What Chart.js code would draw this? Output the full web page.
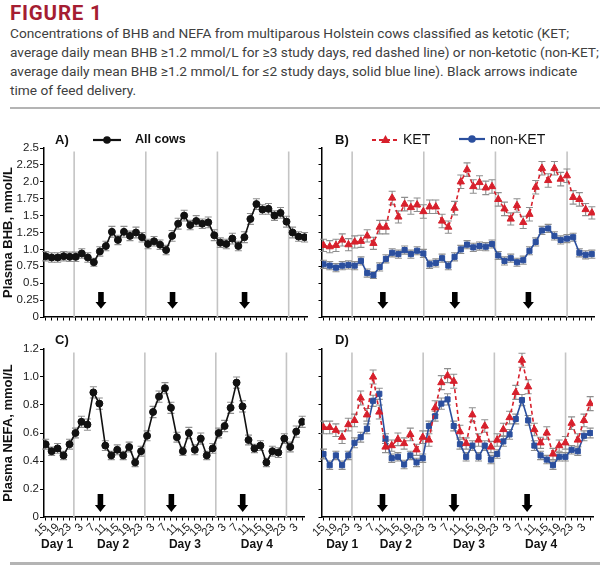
<!DOCTYPE html>
<html>
<head>
<meta charset="utf-8">
<script src="https://cdn.jsdelivr.net/npm/chart.js@4.4.1/dist/chart.umd.min.js"></script>
<style>
  body { margin: 0; width: 610px; height: 571px; background: #fff; position: relative; overflow: hidden;
         font-family: "Liberation Sans", Arial, sans-serif; }
  .fig-title { position: absolute; left: 10px; top: 1px; font: 700 20.5px Roboto, sans-serif; color: #a51d32; letter-spacing: 0.8px; }
  .caption { position: absolute; left: 10px; top: 24px; font: 13.7px Roboto, sans-serif; color: #404040; line-height: 19px; white-space: nowrap; }
  .rule { position: absolute; left: 10px; width: 590px; height: 2px; background: #b4b4b4; }
  .panel { position: absolute; }
  .tag { position: absolute; font: 700 13px "Liberation Sans", Arial, sans-serif; color: #111; }
  .leg { position: absolute; font: 14px "Liberation Sans", Arial, sans-serif; color: #111; }
  svg.key { position: absolute; }
</style>
</head>
<body>
<div class="fig-title">FIGURE 1</div>
<div class="caption">
  <div>Concentrations of BHB and NEFA from multiparous Holstein cows classified as ketotic (KET;</div>
  <div>average daily mean BHB ≥1.2 mmol/L for ≥3 study days, red dashed line) or non-ketotic (non-KET;</div>
  <div>average daily mean BHB ≥1.2 mmol/L for ≤2 study days, solid blue line). Black arrows indicate</div>
  <div>time of feed delivery.</div>
</div>
<div class="rule" style="top:107px"></div>

<canvas id="chartA" class="panel" width="312" height="216" style="left:0;top:110px"></canvas>
<canvas id="chartC" class="panel" width="312" height="230" style="left:0;top:330px"></canvas>
<canvas id="chartB" class="panel" width="300" height="216" style="left:300px;top:110px"></canvas>
<canvas id="chartD" class="panel" width="300" height="230" style="left:300px;top:330px"></canvas>

<div class="tag" style="left:55px;top:132px">A)</div>
<svg class="key" style="left:93px;top:134px" width="28" height="12"><line x1="0" y1="6" x2="28" y2="6" stroke="#111" stroke-width="2.2"/><circle cx="14" cy="6" r="3.8" fill="#111"/></svg>
<div class="leg" style="left:135px;top:132px;font-weight:700;font-size:12.5px">All cows</div>

<div class="tag" style="left:335px;top:132px">B)</div>
<svg class="key" style="left:372px;top:133px" width="27" height="12"><line x1="0" y1="7" x2="27" y2="7" stroke="#d7202c" stroke-width="2.2" stroke-dasharray="4,3"/><polygon points="13.5,2 18,10 9,10" fill="#d7202c"/></svg>
<div class="leg" style="left:403px;top:131px">KET</div>
<svg class="key" style="left:459px;top:133px" width="26" height="12"><line x1="0" y1="6" x2="26" y2="6" stroke="#2b4f9e" stroke-width="2.2"/><circle cx="13" cy="6" r="3.8" fill="#2b4f9e"/></svg>
<div class="leg" style="left:490px;top:131px">non-KET</div>

<div class="tag" style="left:55px;top:332px">C)</div>
<div class="tag" style="left:335px;top:332px">D)</div>

<div class="rule" style="top:562px;height:2.5px"></div>

<script>
// 2-h sampling times, label on every other tick
const hourLabels = ['15','','19','','23','','3','','7','','11','','15','','19','','23','','3','','7','','11','',
                    '15','','19','','23','','3','','7','','11','','15','','19','','23','','3',''];
const dayLabels = ['Day 1', 'Day 2', 'Day 3', 'Day 4'];
const bhbTickLabels = ['0','0.25','0.5','0.75','1.0','1.25','1.5','1.75','2.0','2.25','2.5'];
const nefaTickLabels = ['0','0.2','0.4','0.6','0.8','1.0','1.2'];

// BHB, mmol/L
const bhbAll = [0.90,0.88,0.88,0.90,0.89,0.89,0.94,0.88,0.81,0.97,1.05,1.26,1.14,1.26,1.20,1.25,1.18,1.08,1.12,1.07,0.99,1.20,
                1.38,1.50,1.36,1.42,1.38,1.40,1.21,1.10,1.08,1.16,1.05,1.18,1.45,1.67,1.59,1.60,1.50,1.54,1.41,1.25,1.19,1.18];
const bhbAllSem = [0.07,0.07,0.07,0.07,0.07,0.07,0.07,0.07,0.06,0.07,0.07,0.08,0.07,0.08,0.07,0.08,0.07,0.07,0.07,0.07,0.07,0.08,
                   0.08,0.08,0.07,0.08,0.07,0.08,0.08,0.07,0.07,0.08,0.07,0.08,0.08,0.08,0.07,0.08,0.07,0.08,0.08,0.08,0.07,0.07];
const bhbKet = [1.06,1.04,1.06,1.14,1.07,1.11,1.12,1.20,1.09,1.33,1.33,1.76,1.48,1.67,1.62,1.66,1.56,1.63,1.63,1.42,1.33,1.61,
                2.00,2.18,1.93,1.99,1.91,1.93,1.74,1.60,1.45,1.65,1.40,1.52,1.92,2.20,2.02,2.20,2.04,2.09,1.77,1.74,1.59,1.54];
const bhbKetSem = [0.09,0.09,0.09,0.09,0.09,0.09,0.09,0.09,0.09,0.10,0.10,0.10,0.09,0.10,0.10,0.10,0.10,0.10,0.10,0.10,0.09,0.10,
                   0.10,0.10,0.10,0.10,0.10,0.10,0.10,0.10,0.09,0.10,0.09,0.10,0.10,0.10,0.10,0.10,0.10,0.10,0.10,0.10,0.09,0.09];
const bhbNonKet = [0.78,0.76,0.73,0.76,0.77,0.76,0.83,0.65,0.62,0.74,0.86,0.95,0.93,0.99,0.93,0.98,0.94,0.78,0.80,0.87,0.76,0.89,
                   1.00,1.07,1.03,1.05,1.04,1.08,0.91,0.83,0.87,0.81,0.84,0.98,1.11,1.28,1.31,1.20,1.14,1.16,1.18,0.95,0.92,0.93];
const bhbNonKetSem = [0.06,0.06,0.06,0.06,0.06,0.06,0.06,0.06,0.05,0.06,0.06,0.06,0.06,0.06,0.06,0.06,0.06,0.06,0.06,0.06,0.06,0.06,
                      0.06,0.06,0.06,0.06,0.06,0.06,0.06,0.06,0.06,0.06,0.06,0.06,0.06,0.06,0.06,0.06,0.06,0.06,0.06,0.06,0.06,0.06];

// NEFA, mmol/L
const nefaAll = [0.52,0.47,0.49,0.44,0.52,0.60,0.68,0.66,0.89,0.81,0.51,0.44,0.48,0.44,0.50,0.39,0.47,0.58,0.75,0.86,0.92,0.78,
                 0.57,0.47,0.60,0.48,0.56,0.44,0.49,0.60,0.65,0.78,0.96,0.79,0.55,0.49,0.51,0.39,0.47,0.46,0.56,0.50,0.61,0.68];
const nefaAllSem = [0.035,0.03,0.035,0.03,0.035,0.035,0.04,0.04,0.04,0.04,0.035,0.03,0.035,0.03,0.035,0.03,0.035,0.035,0.04,0.04,0.04,0.04,
                    0.035,0.03,0.04,0.035,0.04,0.03,0.035,0.035,0.04,0.04,0.04,0.04,0.035,0.03,0.035,0.03,0.035,0.035,0.035,0.035,0.04,0.04];
const nefaKet = [0.64,0.64,0.62,0.57,0.66,0.69,0.85,0.73,1.00,0.75,0.50,0.51,0.555,0.525,0.59,0.48,0.57,0.55,0.78,0.96,1.01,0.97,
                 0.61,0.525,0.73,0.55,0.65,0.50,0.55,0.625,0.71,0.89,1.12,0.93,0.625,0.53,0.60,0.45,0.51,0.53,0.67,0.55,0.69,0.81];
const nefaKetSem = [0.045,0.045,0.045,0.045,0.045,0.045,0.05,0.045,0.05,0.05,0.04,0.04,0.045,0.04,0.045,0.04,0.045,0.045,0.05,0.05,0.05,0.05,
                    0.045,0.04,0.05,0.045,0.045,0.04,0.045,0.045,0.045,0.05,0.05,0.05,0.045,0.04,0.045,0.04,0.04,0.045,0.045,0.045,0.045,0.05];
const nefaNonKet = [0.45,0.37,0.44,0.37,0.44,0.53,0.57,0.63,0.83,0.88,0.56,0.42,0.43,0.375,0.44,0.39,0.42,0.65,0.72,0.81,0.84,0.65,
                    0.52,0.43,0.51,0.43,0.51,0.41,0.45,0.54,0.59,0.70,0.835,0.69,0.51,0.44,0.41,0.37,0.43,0.43,0.48,0.47,0.58,0.60];
const nefaNonKetSem = [0.035,0.03,0.03,0.03,0.03,0.035,0.035,0.035,0.04,0.04,0.035,0.03,0.03,0.03,0.03,0.03,0.03,0.035,0.035,0.04,0.04,0.035,
                       0.035,0.03,0.035,0.03,0.035,0.03,0.03,0.035,0.035,0.035,0.04,0.035,0.035,0.03,0.03,0.03,0.03,0.03,0.03,0.03,0.035,0.035];

Chart.defaults.font.family = "'Liberation Sans', Arial, sans-serif";
Chart.defaults.color = '#222';

const RED = '#d7202c', BLUE = '#2b4f9e', BLACK = '#111';

// vertical day separators + feed arrows
const dayMarks = {
  id: 'dayMarks',
  beforeDatasetsDraw(chart, args, o) {
    const { ctx, chartArea: a, scales: { x } } = chart;
    ctx.save();
    ctx.strokeStyle = '#c4c4c4';
    ctx.lineWidth = 1.6;
    o.splits.forEach(v => {
      const px = x.getPixelForValue(v);
      ctx.beginPath();
      ctx.moveTo(px, a.top + 3.5);
      ctx.lineTo(px, a.bottom);
      ctx.stroke();
    });
    ctx.fillStyle = '#000';
    o.feeds.forEach(v => {
      const px = x.getPixelForValue(v);
      const top = a.bottom - o.arrow[0], neck = a.bottom - o.arrow[1], tip = a.bottom - o.arrow[2];
      ctx.beginPath();
      ctx.moveTo(px - 2.8, top);
      ctx.lineTo(px + 2.8, top);
      ctx.lineTo(px + 2.8, neck);
      ctx.lineTo(px + 5.5, neck);
      ctx.lineTo(px, tip);
      ctx.lineTo(px - 5.5, neck);
      ctx.lineTo(px - 2.8, neck);
      ctx.closePath();
      ctx.fill();
    });
    ctx.restore();
  }
};

// SEM whiskers
const errorBars = {
  id: 'errorBars',
  beforeDatasetsDraw(chart) {
    const { ctx, scales: { x, y } } = chart;
    ctx.save();
    ctx.strokeStyle = '#8e8e8e';
    ctx.lineWidth = 1.1;
    chart.data.datasets.forEach(ds => {
      ds.data.forEach((p, i) => {
        const px = x.getPixelForValue(p.x);
        const hi = y.getPixelForValue(p.y + ds.sem[i]);
        const lo = y.getPixelForValue(p.y - ds.sem[i]);
        ctx.beginPath();
        ctx.moveTo(px, hi); ctx.lineTo(px, lo);
        ctx.moveTo(px - 3.5, hi); ctx.lineTo(px + 3.5, hi);
        ctx.moveTo(px - 3.5, lo); ctx.lineTo(px + 3.5, lo);
        ctx.stroke();
      });
    });
    ctx.restore();
  }
};

function series(values, sem, color, style, dashed) {
  return {
    data: values.map((v, i) => ({ x: i, y: v })),
    sem: sem,
    borderColor: color,
    backgroundColor: color,
    borderWidth: 1.6,
    borderDash: dashed ? [4, 3] : [],
    pointStyle: style,
    pointRadius: style === 'rect' ? 3.6 : (style === 'triangle' ? 4.2 : 3.5),
    pointBorderWidth: 1,
    tension: 0
  };
}

function makePanel(id, p) {
  const yTicks = p.tickLabels.map(Number);
  const scales = {
    x: {
      type: 'linear', min: p.xMin, max: p.xMax, weight: 0,
      afterBuildTicks: s => { s.ticks = hourLabels.map((_, i) => ({ value: i })); },
      ticks: { display: p.showHours, autoSkip: false, minRotation: 45, maxRotation: 45, padding: 0,
               font: { size: 11.5 }, color: '#222', callback: v => hourLabels[v] },
      grid: { drawOnChartArea: false, tickLength: 3.5, color: '#000', tickWidth: 1 },
      border: { color: '#000', width: 1.5 },
      afterFit: s => { s.height = p.xHeight; }
    },
    y: {
      min: 0, max: yTicks[yTicks.length - 1],
      afterBuildTicks: s => { s.ticks = yTicks.map(v => ({ value: v })); },
      ticks: { display: p.showY, autoSkip: false, padding: 1, font: { size: 11.5 }, color: '#222',
               callback: (v, i) => p.tickLabels[i] },
      grid: { drawOnChartArea: false, tickLength: 3.5, color: '#000', tickWidth: 1 },
      border: { color: '#000', width: 1.5 },
      title: { display: p.showY, text: p.yTitle, font: { size: 13, weight: 'bold' }, color: '#111',
               padding: { top: 0.5, bottom: 0 } },
      afterFit: s => { s.width = p.yWidth; }
    }
  };
  if (p.dayPos) {
    scales.day = {
      type: 'linear', position: 'bottom', min: p.xMin, max: p.xMax, weight: 1,
      afterBuildTicks: s => { s.ticks = p.dayPos.map(v => ({ value: v })); },
      ticks: { autoSkip: false, maxRotation: 0, minRotation: 0, padding: 1,
               font: { size: 12, weight: 'bold' }, color: '#111', callback: (v, i) => dayLabels[i] },
      grid: { display: false, drawTicks: false },
      border: { display: false },
      afterFit: s => { s.height = 24; }
    };
  }
  return new Chart(document.getElementById(id), {
    type: 'line',
    data: { datasets: p.datasets },
    options: {
      responsive: false,
      animation: false,
      devicePixelRatio: 1,
      layout: { padding: { top: p.padTop, right: 0, left: 0, bottom: 0 } },
      plugins: {
        legend: { display: false },
        tooltip: { enabled: false },
        dayMarks: { splits: p.splits, feeds: p.feeds, arrow: p.arrow }
      },
      scales: scales
    },
    plugins: [dayMarks, errorBars]
  });
}

const leftGeom = { xMin: -0.36, xMax: 43.4, yWidth: 43.5, splits: [4.73, 16.63, 28.52, 40.36], feeds: [9.18, 21.07, 33.03] };
const rightGeom = { xMin: -0.24, xMax: 43.47, yWidth: 22, splits: [4.59, 16.07, 27.55, 39.03], feeds: [9.51, 21.04, 32.83] };

makePanel('chartA', Object.assign({}, leftGeom, {
  tickLabels: bhbTickLabels, showY: true, yTitle: 'Plasma BHB, mmol/L', showHours: false,
  xHeight: 9, padTop: 38, arrow: [25, 15, 8.2],
  datasets: [series(bhbAll, bhbAllSem, BLACK, 'circle', false)]
}));
makePanel('chartB', Object.assign({}, rightGeom, {
  tickLabels: bhbTickLabels, showY: false, yTitle: '', showHours: false,
  xHeight: 9, padTop: 38, arrow: [25, 15, 8.2],
  datasets: [series(bhbKet, bhbKetSem, RED, 'triangle', true),
             series(bhbNonKet, bhbNonKetSem, BLUE, 'rect', false)]
}));
makePanel('chartC', Object.assign({}, leftGeom, {
  tickLabels: nefaTickLabels, showY: true, yTitle: 'Plasma NEFA, mmol/L', showHours: true,
  xHeight: 19, padTop: 19, arrow: [23, 12, 5], dayPos: [1.92, 11.3, 23.35, 35.4],
  datasets: [series(nefaAll, nefaAllSem, BLACK, 'circle', false)]
}));
makePanel('chartD', Object.assign({}, rightGeom, {
  tickLabels: nefaTickLabels, showY: false, yTitle: '', showHours: true,
  xHeight: 19, padTop: 19, arrow: [23, 12, 5], dayPos: [3.02, 11.67, 23.46, 35.09],
  datasets: [series(nefaKet, nefaKetSem, RED, 'triangle', true),
             series(nefaNonKet, nefaNonKetSem, BLUE, 'rect', false)]
}));
</script>
</body>
</html>
